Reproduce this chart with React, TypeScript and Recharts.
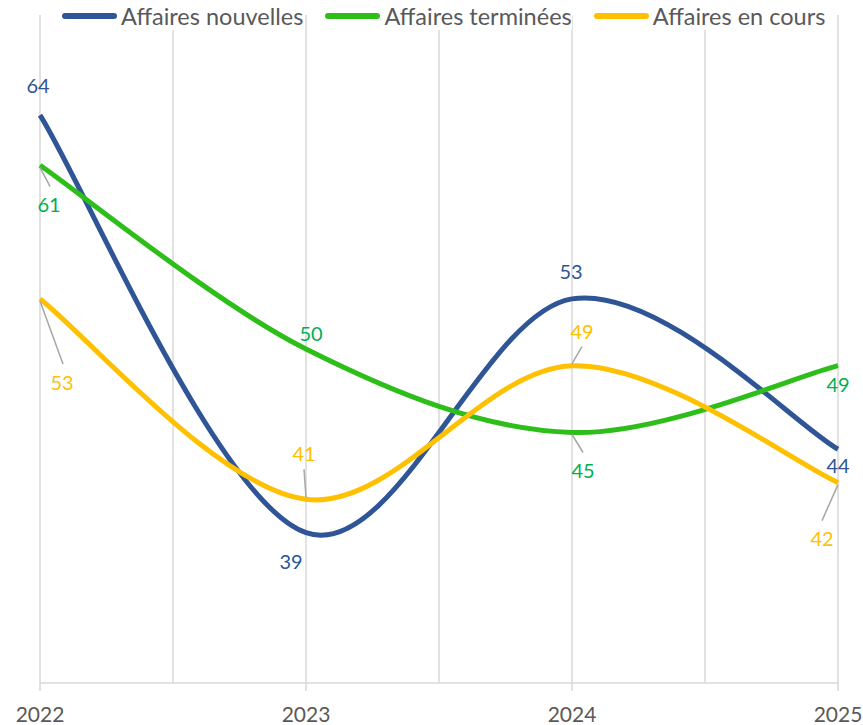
import React from 'react';
import { LineChart, Line, XAxis, YAxis, CartesianGrid, LabelList } from 'recharts';

const years = [2022, 2023, 2024, 2025];
const nouvelles = [64, 39, 53, 44];
const terminees = [61, 50, 45, 49];
const enCours = [53, 41, 49, 42];
const xTicks = [2022, 2022.5, 2023, 2023.5, 2024, 2024.5, 2025];

const data = years.map((year, i) => ({
  year,
  nouvelles: nouvelles[i],
  terminees: terminees[i],
  enCours: enCours[i],
}));

const FONT = 'Lato, "Open Sans", sans-serif';
const BLUE = '#2F5597';
const GREEN = '#2DBE1A';
const GREEN_TEXT = '#00B050';
const YELLOW = '#FFC000';
const GREY = '#595959';

// label offsets relative to the point: [dx, dy], optional leader end [lx, ly]
type Place = { d: [number, number]; lead?: [number, number] };
const placeNouvelles: Place[] = [
  { d: [-2, -30] },
  { d: [-15, 28] },
  { d: [-1, -28] },
  { d: [0, 16] },
];
const placeTerminees: Place[] = [
  { d: [9, 39], lead: [10, 21] },
  { d: [5, -16] },
  { d: [11, 37], lead: [11, 20] },
  { d: [0, 18] },
];
const placeEnCours: Place[] = [
  { d: [22, 83], lead: [23, 65] },
  { d: [-2, -46], lead: [-2, -30] },
  { d: [10, -35], lead: [10, -19] },
  { d: [-16, 55], lead: [-16, 38] },
];

// Excel-like smoothed line (Catmull-Rom through the points)
function smoothCurve(context: any) {
  let pts: number[][] = [];
  return {
    areaStart() {},
    areaEnd() {},
    lineStart() {
      pts = [];
    },
    point(x: number, y: number) {
      pts.push([+x, +y]);
    },
    lineEnd() {
      const n = pts.length;
      if (!n) return;
      context.moveTo(pts[0][0], pts[0][1]);
      for (let i = 0; i < n - 1; i++) {
        const p0 = pts[Math.max(i - 1, 0)];
        const p1 = pts[i];
        const p2 = pts[i + 1];
        const p3 = pts[Math.min(i + 2, n - 1)];
        context.bezierCurveTo(
          p1[0] + (p2[0] - p0[0]) / 6,
          p1[1] + (p2[1] - p0[1]) / 6,
          p2[0] - (p3[0] - p1[0]) / 6,
          p2[1] - (p3[1] - p1[1]) / 6,
          p2[0],
          p2[1]
        );
      }
    },
  };
}

const makeLabel = (places: Place[], color: string) => (props: any) => {
  const { x, y, value, index } = props;
  const p = places[index];
  if (!p) return null;
  return (
    <g>
      {p.lead && (
        <line x1={x} y1={y + Math.sign(p.lead[1]) * 2} x2={x + p.lead[0]} y2={y + p.lead[1]} stroke="#A6A6A6" strokeWidth={1.5} />
      )}
      <text
        x={x + p.d[0]}
        y={y + p.d[1]}
        textAnchor="middle"
        dominantBaseline="central"
        fill={color}
        fontSize={20}
        fontFamily={FONT}
      >
        {value}
      </text>
    </g>
  );
};

const YearTick = (props: any) => {
  const { x, y, payload } = props;
  if (!Number.isInteger(payload.value)) return null;
  return (
    <g>
      <line x1={x} y1={y - 8} x2={x} y2={y} stroke="#D9D9D9" strokeWidth={1.5} />
      <text x={x} y={y + 22} textAnchor="middle" dominantBaseline="central" fill={GREY} fontSize={21} fontFamily={FONT}>
        {payload.value}
      </text>
    </g>
  );
};

const legendItems = [
  { name: 'Affaires nouvelles', color: BLUE },
  { name: 'Affaires terminées', color: GREEN },
  { name: 'Affaires en cours', color: YELLOW },
];

export default function App() {
  return (
    <div style={{ position: 'absolute', left: 0, top: 0, width: 863, height: 725, background: '#fff' }}>
      <LineChart width={863} height={725} data={data} margin={{ top: 15, right: 25, bottom: 0, left: 40 }}>
        <CartesianGrid horizontal={false} stroke="#D9D9D9" strokeWidth={1.5} />
        <XAxis
          type="number"
          dataKey="year"
          domain={[2022, 2025]}
          ticks={xTicks}
          height={42}
          stroke="#D9D9D9"
          strokeWidth={1.5}
          tickLine={false}
          tick={<YearTick />}
          interval={0}
        />
        <YAxis hide domain={[30, 70]} />
        <Line dataKey="nouvelles" type={smoothCurve as any} stroke={BLUE} strokeWidth={5} dot={false} isAnimationActive={false}>
          <LabelList dataKey="nouvelles" content={makeLabel(placeNouvelles, BLUE)} />
        </Line>
        <Line dataKey="terminees" type={smoothCurve as any} stroke={GREEN} strokeWidth={5} dot={false} isAnimationActive={false}>
          <LabelList dataKey="terminees" content={makeLabel(placeTerminees, GREEN_TEXT)} />
        </Line>
        <Line dataKey="enCours" type={smoothCurve as any} stroke={YELLOW} strokeWidth={5} dot={false} isAnimationActive={false}>
          <LabelList dataKey="enCours" content={makeLabel(placeEnCours, YELLOW)} />
        </Line>
      </LineChart>
      <div
        style={{
          position: 'absolute',
          top: 2,
          left: 62,
          display: 'flex',
          alignItems: 'center',
          fontFamily: FONT,
          fontSize: 23.5,
          lineHeight: '28px',
          color: GREY,
        }}
      >
        {legendItems.map((item) => (
          <div key={item.name} style={{ display: 'flex', alignItems: 'center', marginRight: 22 }}>
            <span style={{ display: 'inline-block', width: 55, height: 6, borderRadius: 3, background: item.color, marginRight: 4 }} />
            <span style={{ background: '#fff' }}>{item.name}</span>
          </div>
        ))}
      </div>
    </div>
  );
}
